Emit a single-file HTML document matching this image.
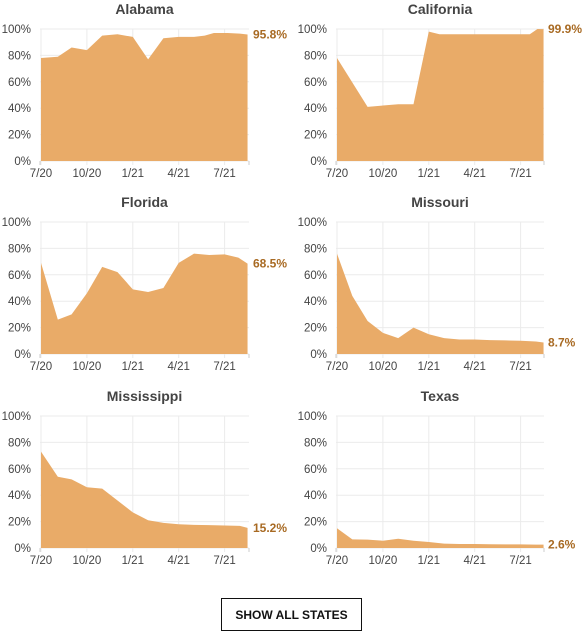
<!DOCTYPE html>
<html><head><meta charset="utf-8"><style>
body{margin:0;background:#fff;width:583px;height:632px;overflow:hidden;font-family:"Liberation Sans",sans-serif}
svg{position:absolute;left:0;top:0}
#btn{position:absolute;left:221px;top:598px;width:141px;height:33px;border:1.5px solid #111;box-sizing:border-box;background:#fff;font:bold 12px "Liberation Sans",sans-serif;color:#111;display:flex;align-items:center;justify-content:center;cursor:pointer}
</style></head><body>
<svg id="chart" width="583" height="632"></svg>
<div id="btn">SHOW ALL STATES</div>
<script>
const states=["Alabama","California","Florida","Missouri","Mississippi","Texas"];
const latestLabels=["95.8%","99.9%","68.5%","8.7%","15.2%","2.6%"];
const tickLabels=["7/20","10/20","1/21","4/21","7/21"];
const tickMonths=[0,3,6,9,12];
const yTicks=[0,20,40,60,80,100];
const alabamaT=[0,1.1,2,3,4,5,6,7,8,9,10,10.7,11.3,12.2,13,13.5];
const alabamaV=[78,79,86,84,95,96,94,77,93,94,94,95,97,97,96.5,95.8];
const californiaT=[0,2,3,4,5,6,6.7,8,10,11,12.6,13.1,13.5];
const californiaV=[78,41,42,43,43,98,96,96,96,96,96,100,99.9];
const floridaT=[0,1.1,2,3,4,5,6,7,8,9,10,11,12,12.9,13.5];
const floridaV=[69,26,30,46,66,62,49,47,50,69,76,75,75.5,73,68.5];
const missouriT=[0,1,2,3,4,5,6,7,8,9,10,11,12,13,13.5];
const missouriV=[76,44,25,16,12,20,15,12,11,11,10.5,10.3,10,9.5,8.7];
const mississippiT=[0,1.1,2,3,4,5,6,7,8,9,10,11,12,13,13.5];
const mississippiV=[73,54,52,46,45,36,27,21,19,18,17.5,17.3,17,16.8,15.2];
const texasT=[0,1,2,3,4,5,6,7,8,9,10,11,12,13,13.5];
const texasV=[15,6.5,6.3,5.5,7,5.5,4.5,3.3,3,3,2.8,2.7,2.7,2.6,2.6];
const seriesT=[alabamaT,californiaT,floridaT,missouriT,mississippiT,texasT];
const seriesV=[alabamaV,californiaV,floridaV,missouriV,mississippiV,texasV];
const svg=document.getElementById('chart');
const NS='http://www.w3.org/2000/svg';
function mk(tag,attrs,parent){const e=document.createElementNS(NS,tag);for(const k in attrs)e.setAttribute(k,attrs[k]);parent.appendChild(e);return e;}
states.forEach((name,i)=>{
  const col=i%2,row=Math.floor(i/2);
  const x0=col?336:40,x1=col?544:249,top=[29,222,416][row],h=132;
  const xs=t=>x0+1+t*15.3, ys=v=>top+h-v/100*h;
  const g=mk('g',{},svg);
  
  
  yTicks.forEach(v=>{
    const l=mk('line',{x1:x0,x2:x1,y1:ys(v),y2:ys(v),stroke:'#ebebeb','stroke-width':1},g);
    
    const tx=mk('text',{x:x0-9,y:ys(v)+4,'text-anchor':'end','font-size':11.5,fill:'#444'},g);
    tx.textContent=v+'%';
    
  });
  tickMonths.forEach((m,k)=>{
    const l=mk('line',{x1:xs(m),x2:xs(m),y1:top,y2:top+h+4,stroke:'#ebebeb','stroke-width':1},g);
    
    const tx=mk('text',{x:xs(m),y:top+h+16,'text-anchor':'middle','font-size':11.5,fill:'#444'},g);
    tx.textContent=tickLabels[k];
    
  });
  const T=seriesT[i],V=seriesV[i];
  let d='M'+xs(T[0])+','+ys(0);
  T.forEach((t,j)=>{d+=' L'+xs(t)+','+ys(V[j]);});
  d+=' L'+xs(T[T.length-1])+','+ys(0)+' Z';
  const p=mk('path',{d:d,fill:'#e9ab68'},g);
  
  mk('line',{x1:x0,x2:x0,y1:top+h,y2:top+h+4,stroke:'#ccc'},g);
  mk('line',{x1:x1,x2:x1,y1:top+h,y2:top+h+4,stroke:'#ccc'},g);
  const title=mk('text',{x:(x0+x1)/2,y:top-15,'text-anchor':'middle','font-size':14,'font-weight':'bold',fill:'#444'},g);
  title.textContent=name;
  
  const lv=V[V.length-1];
  const vl=mk('text',{x:x1+4,y:ys(lv)+4,'font-size':12,'font-weight':'bold',fill:'#a86a23'},g);
  vl.textContent=latestLabels[i];
  
});
</script>
</body></html>
